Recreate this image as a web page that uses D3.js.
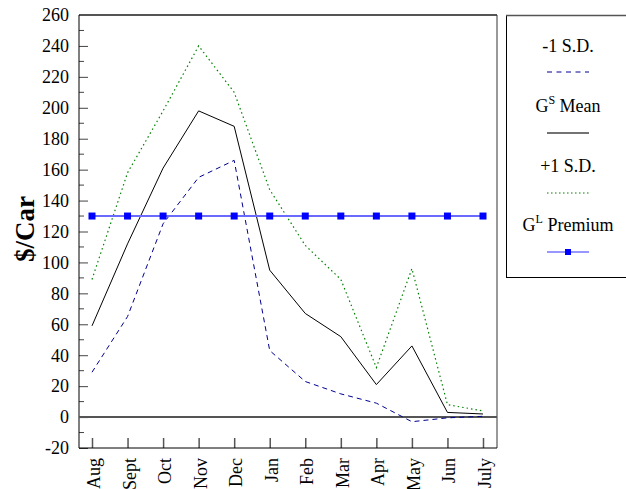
<!DOCTYPE html>
<html>
<head>
<meta charset="utf-8">
<script src="https://cdn.jsdelivr.net/npm/d3@7"></script>
<style>
  body { margin: 0; background: #fff; }
  text { font-family: "Liberation Serif", "Times New Roman", serif; }
</style>
</head>
<body>
<div id="chart"></div>
<script>
// data
var months = ["Aug", "Sept", "Oct", "Nov", "Dec", "Jan", "Feb", "Mar", "Apr", "May", "Jun", "July"]
var minusSD = [29, 65, 125, 155, 166, 43, 23, 15, 9, -3, -0.5, 0.5]
var gsMean = [59, 112, 161, 198, 188, 95, 67, 52, 21, 46, 3, 2]
var plusSD = [89, 158, 198, 240, 210, 147, 111, 89, 32, 96, 8, 4]
var glPremium = [130, 130, 130, 130, 130, 130, 130, 130, 130, 130, 130, 130]
var yTicks = [-20, 0, 20, 40, 60, 80, 100, 120, 140, 160, 180, 200, 220, 240, 260]

var W = 626, H = 489
var pLeft = 79, pRight = 497, pTop = 15, pBottom = 448

var svg = d3.select("#chart").append("svg")
    .attr("width", W)
    .attr("height", H)

var x = d3.scalePoint().domain(months).range([92, 483])
var y = d3.scaleLinear().domain([-20, 260]).range([pBottom, pTop])

// minor ticks every 10
var minor = d3.range(-10, 260, 20)
svg.selectAll(".minor").data(minor).enter().append("line")
    .attr("x1", pLeft).attr("x2", pLeft + 5)
    .attr("y1", d => y(d)).attr("y2", d => y(d))
    .attr("stroke", "#444").attr("stroke-width", 1)

// y axis, ticks drawn inward
var yAxis = svg.append("g")
    .attr("transform", "translate(" + pLeft + ",0)")
    .call(d3.axisRight(y).tickValues(yTicks).tickSize(9).tickFormat(""))
yAxis.select(".domain").remove()
yAxis.selectAll("line").attr("stroke", "#444")

svg.selectAll(".ylab").data(yTicks).enter().append("text")
    .attr("x", pLeft - 10)
    .attr("y", d => y(d))
    .attr("dy", "0.35em")
    .attr("text-anchor", "end")
    .attr("font-size", 18)
    .text(d => d)

// x axis ticks pointing up
var xAxis = svg.append("g")
    .attr("transform", "translate(0," + pBottom + ")")
    .call(d3.axisTop(x).tickSize(10).tickFormat(""))
xAxis.select(".domain").remove()
xAxis.selectAll("line").attr("stroke", "#555").attr("stroke-width", 1.5)

svg.selectAll(".xlab").data(months).enter().append("text")
    .attr("transform", d => "translate(" + (x(d) + 8) + ",458) rotate(-90)")
    .attr("text-anchor", "end")
    .attr("font-size", 18)
    .text(d => d)

// frame
svg.append("line").attr("x1", pLeft).attr("x2", pRight).attr("y1", pTop).attr("y2", pTop)
    .attr("stroke", "#555").attr("stroke-width", 2)
svg.append("line").attr("x1", pLeft).attr("x2", pLeft).attr("y1", pTop).attr("y2", pBottom)
    .attr("stroke", "#000")
svg.append("line").attr("x1", pRight).attr("x2", pRight).attr("y1", pTop).attr("y2", pBottom)
    .attr("stroke", "#333")
svg.append("line").attr("x1", pLeft).attr("x2", pRight).attr("y1", pBottom).attr("y2", pBottom)
    .attr("stroke", "#000")

// zero line
svg.append("line").attr("x1", pLeft).attr("x2", pRight).attr("y1", y(0)).attr("y2", y(0))
    .attr("stroke", "#555").attr("stroke-width", 2)

var line = d3.line().x((d, i) => x(months[i])).y(d => y(d))

svg.append("path").datum(plusSD).attr("d", line)
    .attr("fill", "none").attr("stroke", "#008000").attr("stroke-width", 1.2)
    .attr("stroke-dasharray", "1.5,3")
svg.append("path").datum(gsMean).attr("d", line)
    .attr("fill", "none").attr("stroke", "#000").attr("stroke-width", 1)
svg.append("path").datum(minusSD).attr("d", line)
    .attr("fill", "none").attr("stroke", "#000090").attr("stroke-width", 1)
    .attr("stroke-dasharray", "5,4")
svg.append("path").datum(glPremium).attr("d", line)
    .attr("fill", "none").attr("stroke", "#6a6aff").attr("stroke-width", 2)
svg.selectAll(".prem").data(glPremium).enter().append("rect")
    .attr("x", (d, i) => x(months[i]) - 3.5)
    .attr("y", d => y(d) - 3.5)
    .attr("width", 7).attr("height", 7)
    .attr("fill", "#0000ff")

// y title
svg.append("text")
    .attr("transform", "translate(34,229) rotate(-90)")
    .attr("text-anchor", "middle")
    .attr("font-size", 27)
    .attr("font-weight", "bold")
    .text("$/Car")

// legend
var lg = svg.append("g")
lg.append("rect").attr("x", 506.5).attr("y", 15.5).attr("width", 140).attr("height", 262)
    .attr("fill", "none").attr("stroke", "#000")
lg.append("line").attr("x1", 506).attr("x2", 626).attr("y1", 15.5).attr("y2", 15.5)
    .attr("stroke", "#555").attr("stroke-width", 1.5)

var cx = 568
var items = [
    {lab: "-1 S.D.", sup: "", ty: 52, ly: 72, color: "#000090", dash: "5,4.5", w: 1},
    {lab: "G", sup: "S", rest: " Mean", ty: 112, ly: 133, color: "#444", dash: null, w: 1.5},
    {lab: "+1 S.D.", sup: "", ty: 172, ly: 193, color: "#008000", dash: "1.5,2.5", w: 1.2},
    {lab: "G", sup: "L", rest: " Premium", ty: 231, ly: 252, color: "#3030ff", dash: null, w: 1.2}
]
items.forEach(function(it) {
    var t = lg.append("text")
        .attr("x", cx).attr("y", it.ty)
        .attr("text-anchor", "middle")
        .attr("font-size", 18)
    t.append("tspan").text(it.lab)
    if (it.sup) {
        t.append("tspan").attr("font-size", 12).attr("dy", -8).text(it.sup)
        t.append("tspan").attr("dy", 8).text(it.rest)
    }
    lg.append("line")
        .attr("x1", cx - 21).attr("x2", cx + 21)
        .attr("y1", it.ly).attr("y2", it.ly)
        .attr("stroke", it.color).attr("stroke-width", it.w)
        .attr("stroke-dasharray", it.dash)
})
lg.append("rect").attr("x", cx - 3).attr("y", 249).attr("width", 6).attr("height", 6)
    .attr("fill", "#0000ff")
</script>
</body>
</html>
